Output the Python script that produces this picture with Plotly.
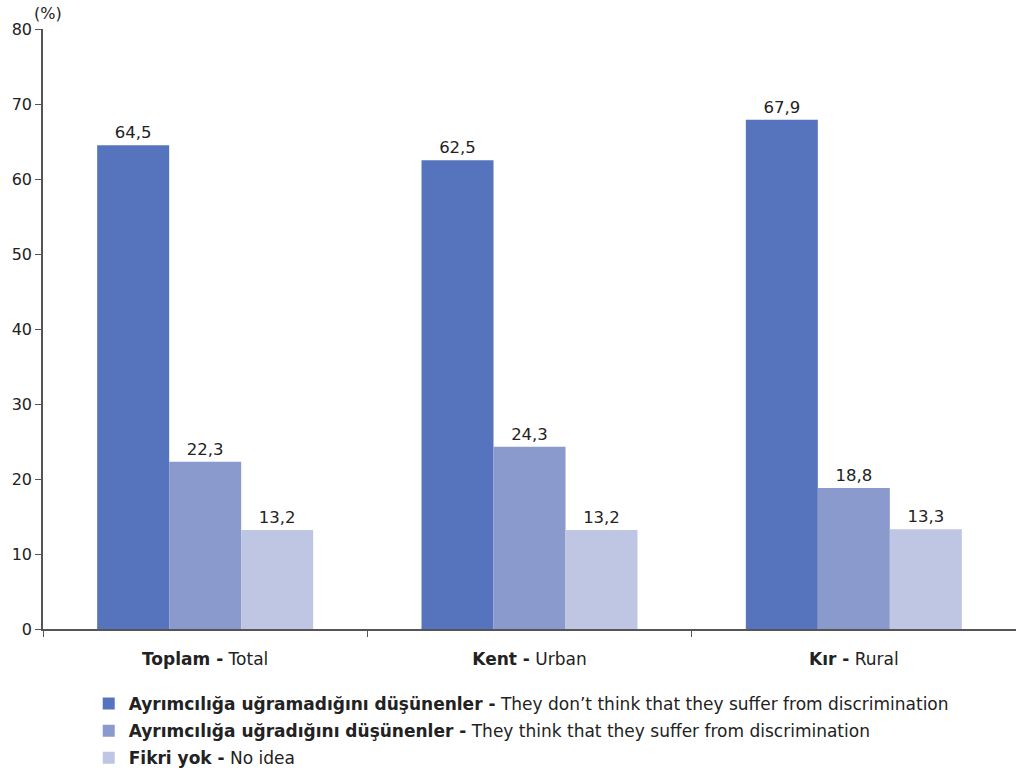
import plotly.graph_objects as go

categories = ["<b>Toplam -</b> Total", "<b>Kent -</b> Urban", "<b>Kır -</b> Rural"]
series_names = [
    "<b>Ayrımcılığa uğramadığını düşünenler -</b> They don’t think that they suffer from discrimination",
    "<b>Ayrımcılığa uğradığını düşünenler -</b> They think that they suffer from discrimination",
    "<b>Fikri yok -</b> No idea",
]
no_discrimination = [64.5, 62.5, 67.9]
discrimination = [22.3, 24.3, 18.8]
no_idea = [13.2, 13.2, 13.3]
colors = ["#5674BD", "#8A9ACC", "#BFC6E3"]
y_ticks = [0, 10, 20, 30, 40, 50, 60, 70, 80]

FONT = "DejaVu Sans"
fig = go.Figure()
for i, (name, vals, col) in enumerate(zip(series_names, [no_discrimination, discrimination, no_idea], colors)):
    fig.add_trace(go.Bar(
        x=categories, y=vals, name=name, marker_color=col, marker_line_width=0,
        legendgroup=f"g{i}",
        text=[f"{v:.1f}".replace(".", ",") for v in vals],
        textposition="outside", textfont=dict(size=16.5, color="#222", family=FONT),
        cliponaxis=False,
    ))

fig.update_layout(
    width=1016, height=772,
    margin=dict(l=43, r=0, t=29, b=143),
    paper_bgcolor="white", plot_bgcolor="white",
    barmode="group", bargap=0.334, bargroupgap=0,
    font=dict(family=FONT, size=17, color="#222"),
    showlegend=True,
    legend=dict(x=0.047, y=0.1114, xref="paper", yref="container",
                xanchor="left", yanchor="top",
                font=dict(size=17, family=FONT, color="#222"),
                tracegroupgap=2, itemwidth=30, bgcolor="rgba(0,0,0,0)"),
    annotations=[dict(text="(%)", xref="paper", yref="paper", x=0, y=1,
                      xanchor="center", yanchor="bottom", showarrow=False,
                      xshift=5, yshift=4, font=dict(size=16, family=FONT, color="#222"))],
)
fig.update_xaxes(showline=True, linecolor="#555", linewidth=1.5, ticks="outside",
                 tickson="boundaries", ticklen=6, tickcolor="#555", ticklabelstandoff=14,
                 tickfont=dict(size=17, family=FONT, color="#222"), showgrid=False)
fig.update_yaxes(range=[0, 80], tickvals=y_ticks, showline=True, linecolor="#555", linewidth=1.5,
                 ticks="outside", ticklen=6, tickcolor="#555", showgrid=False, zeroline=False,
                 tickfont=dict(size=16, family=FONT, color="#222"))

fig.write_html("out.html", config={"displayModeBar": False},
               post_script="document.body.style.margin='0';")
